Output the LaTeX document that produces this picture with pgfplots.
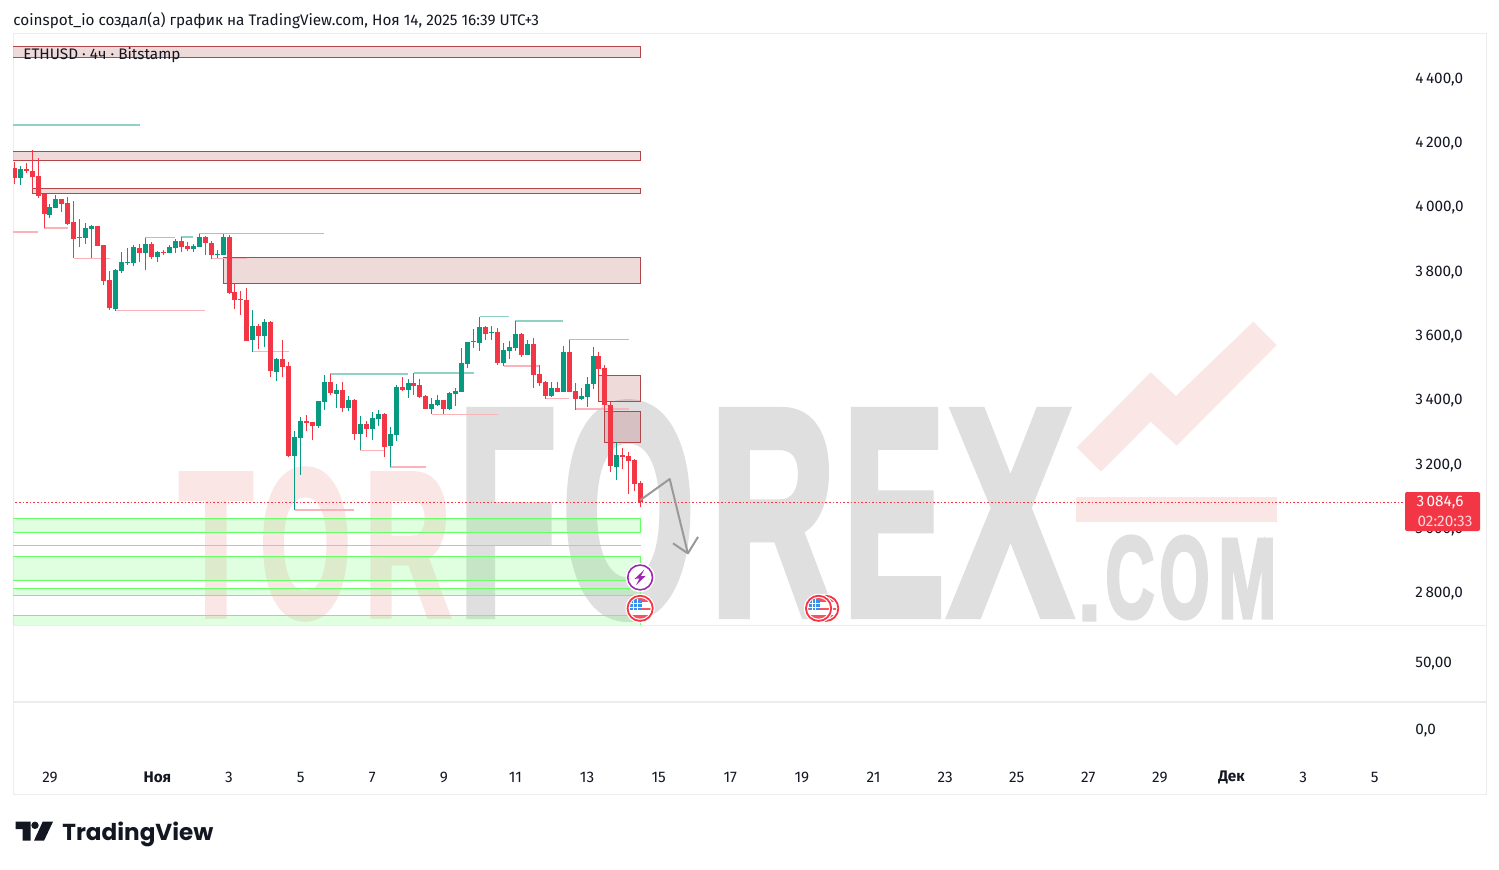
\documentclass[border=0pt]{standalone}
\usepackage{fontspec}
\setmainfont{Fira Sans}
\newfontfamily\wmf{Liberation Sans}[UprightFont=* Bold, FakeBold=3.5]
\newfontfamily\tvf{Poppins}
\usepackage{pgfplots}
\usepackage{pgfplotstable}
\pgfplotsset{compat=1.18}
\definecolor{upc}{HTML}{089981}
\definecolor{dnc}{HTML}{F23645}
\definecolor{zone}{HTML}{B2474A}
\definecolor{zgreen}{HTML}{66FF66}
\definecolor{frame}{HTML}{ECECEC}
\definecolor{wmpink}{HTML}{FBE6E6}
\definecolor{wmgray}{HTML}{DFDFDF}
\definecolor{evpurple}{HTML}{9C27B0}
\definecolor{evblue}{HTML}{3D8FEE}
\definecolor{tvtext}{HTML}{131722}

% x = 4h candle number, y = price
\pgfplotstableread{
i o h l c
1 4087 4124 4065 4115
6 3972 4006 3962 3997
7 3993 4034 3993 4021
12 3900 3947 3881 3931
13 3928 3940 3838 3937
17 3679 3803 3673 3800
18 3797 3856 3791 3825
19 3822 3869 3816 3825
20 3822 3878 3813 3872
22 3853 3900 3800 3881
24 3841 3859 3825 3856
26 3853 3878 3853 3872
27 3869 3897 3853 3890
30 3866 3881 3856 3875
31 3872 3912 3872 3903
34 3847 3862 3838 3850
35 3847 3912 3847 3903
40 3583 3676 3546 3627
42 3596 3648 3561 3639
44 3484 3527 3456 3524
47 3223 3300 3055 3282
48 3279 3344 3164 3331
51 3316 3394 3310 3394
52 3391 3474 3366 3453
54 3415 3446 3372 3428
56 3372 3409 3362 3397
58 3291 3347 3241 3322
60 3307 3359 3272 3341
61 3338 3366 3316 3353
63 3254 3313 3188 3291
64 3288 3443 3269 3437
66 3428 3462 3403 3450
70 3369 3403 3353 3384
71 3381 3412 3378 3397
73 3369 3422 3366 3418
74 3415 3434 3378 3425
75 3422 3558 3422 3512
76 3509 3577 3496 3577
77 3577 3617 3558 3580
78 3574 3655 3549 3624
80 3605 3627 3583 3608
82 3512 3574 3502 3552
83 3549 3580 3524 3561
84 3558 3642 3549 3602
86 3537 3583 3537 3571
90 3409 3453 3406 3434
92 3422 3565 3422 3546
95 3400 3434 3397 3409
96 3406 3468 3375 3446
97 3446 3561 3431 3533
101 3188 3266 3148 3226
}\upcandles

\pgfplotstableread{
i o h l c
0 4118 4137 4068 4087
2 4115 4134 4102 4108
3 4108 4174 4049 4090
4 4093 4149 4024 4031
5 4037 4037 3930 3975
8 4021 4023 3981 4006
9 4009 4028 3941 3944
10 3950 4015 3837 3897
11 3903 3959 3872 3900
14 3937 3937 3875 3875
15 3878 3880 3754 3766
16 3769 3797 3676 3682
21 3869 3881 3825 3853
23 3881 3887 3834 3841
25 3856 3862 3847 3853
28 3890 3903 3856 3872
29 3875 3887 3859 3866
32 3903 3906 3847 3884
33 3884 3890 3834 3847
36 3903 3909 3726 3729
37 3732 3759 3679 3707
38 3711 3735 3661 3708
39 3708 3745 3580 3580
41 3627 3633 3555 3596
43 3639 3642 3468 3487
45 3524 3583 3468 3499
46 3502 3515 3219 3223
49 3331 3350 3300 3325
50 3328 3328 3272 3316
53 3453 3477 3412 3418
55 3428 3453 3359 3372
57 3397 3400 3272 3291
59 3322 3331 3282 3307
62 3353 3356 3219 3251
65 3437 3468 3425 3428
67 3450 3481 3412 3440
68 3443 3462 3403 3406
69 3409 3412 3369 3369
72 3397 3397 3353 3369
79 3624 3627 3583 3602
81 3608 3620 3505 3512
85 3602 3605 3530 3537
87 3571 3589 3434 3474
88 3477 3505 3440 3450
89 3453 3456 3400 3409
91 3434 3453 3422 3422
93 3546 3583 3422 3422
94 3425 3450 3366 3400
98 3533 3546 3471 3493
99 3496 3505 3362 3381
100 3381 3390 3173 3191
102 3226 3247 3182 3219
103 3223 3235 3104 3207
104 3210 3213 3114 3135
105 3139 3145 3064 3080
}\dncandles

\pgfdeclareplotmark{usflag}{%
  \pgfscope
  \pgfsetfillcolor{white}\pgfpathcircle{\pgfpointorigin}{7.3pt}\pgfusepathqfill
  \pgfsetstrokecolor{dnc}\pgfsetlinewidth{.9pt}\pgfpathcircle{\pgfpointorigin}{6.3pt}\pgfusepathqstroke
  \pgfpathcircle{\pgfpointorigin}{5.2pt}\pgfusepathqclip
  \pgfsetfillcolor{dnc!85}
  \pgfpathrectangle{\pgfpoint{-6pt}{3pt}}{\pgfpoint{12pt}{3pt}}\pgfusepathqfill
  \pgfpathrectangle{\pgfpoint{-6pt}{-1pt}}{\pgfpoint{12pt}{1.4pt}}\pgfusepathqfill
  \pgfpathrectangle{\pgfpoint{-6pt}{-6pt}}{\pgfpoint{12pt}{2.7pt}}\pgfusepathqfill
  \pgfsetfillcolor{evblue}
  \pgfpathrectangle{\pgfpoint{-5pt}{-1pt}}{\pgfpoint{5.8pt}{5.6pt}}\pgfusepathqfill
  \pgfsetstrokecolor{white}\pgfsetlinewidth{.2pt}
  \pgfpathmoveto{\pgfpoint{-3.4pt}{-1pt}}\pgfpathlineto{\pgfpoint{-3.4pt}{4.6pt}}
  \pgfpathmoveto{\pgfpoint{-1.6pt}{-1pt}}\pgfpathlineto{\pgfpoint{-1.6pt}{4.6pt}}
  \pgfpathmoveto{\pgfpoint{-5pt}{.8pt}}\pgfpathlineto{\pgfpoint{.8pt}{.8pt}}
  \pgfpathmoveto{\pgfpoint{-5pt}{2.7pt}}\pgfpathlineto{\pgfpoint{.8pt}{2.7pt}}
  \pgfusepathqstroke
  \endpgfscope}
\pgfdeclareplotmark{bolt}{%
  \pgfscope
  \pgfsetfillcolor{white}\pgfpathcircle{\pgfpointorigin}{7.3pt}\pgfusepathqfill
  \pgfsetstrokecolor{evpurple}\pgfsetlinewidth{.8pt}\pgfpathcircle{\pgfpointorigin}{6.2pt}\pgfusepathqstroke
  \pgfsetfillcolor{evpurple}
  \pgfpathmoveto{\pgfpoint{2.1pt}{3.9pt}}
  \pgfpathlineto{\pgfpoint{-2.8pt}{-.7pt}}
  \pgfpathlineto{\pgfpoint{-.3pt}{-.5pt}}
  \pgfpathlineto{\pgfpoint{-2.1pt}{-3.9pt}}
  \pgfpathlineto{\pgfpoint{2.8pt}{.8pt}}
  \pgfpathlineto{\pgfpoint{.3pt}{.6pt}}
  \pgfpathclose\pgfusepathqfill
  \endpgfscope}

\newcommand{\wmch}[6]{% x1 x2 ytop ybot colour letter, in image pixels
  \pgfmathsetmacro\wmw{(#2-#1)*.5}\pgfmathsetmacro\wmh{(#4-#3)*.5*.93}%
  \pgfmathsetmacro\wmb{#4-(#4-#3)*.035}%
  \node[anchor=south west, inner sep=0pt, text=#5] at (#1,\wmb)
    {\resizebox{\wmw pt}{\wmh pt}{\wmf #6}};}

\newcommand{\smallfont}{\fontsize{7.65pt}{9pt}\selectfont}

\pgfplotsset{
  pane/.style={
    scale only axis, anchor=south west, width=736.5pt,
    xmin=-0.2, xmax=246.65,
    axis line style={draw=frame, line width=.5pt},
    tick style={draw=none}, major tick length=0pt,
    yticklabel pos=right, xtick=\empty,
    tick label style={text=tvtext},
    y tick label style={anchor=west, inner sep=0pt, xshift=-35.5pt, yshift=-1pt, font=\smallfont},
    /pgf/number format/assume math mode=true,
    /pgf/number format/use comma,
    /pgf/number format/1000 sep={\,},
    /pgf/number format/fixed,
    /pgf/number format/fixed zerofill,
    /pgf/number format/precision=1,
  },
  liq/.style={line width=.8pt, forget plot},
  lg/.style={liq, color=upc!45},
  lr/.style={liq, color=dnc!38},
  zr/.style={draw=zone, fill=zone, fill opacity=.2, line width=.5pt, forget plot},
  zg/.style={draw=zgreen, fill=zgreen, fill opacity=.2, line width=.5pt, forget plot},
}

\begin{document}
\begin{tikzpicture}
\path[use as bounding box, fill=white] (0,0) rectangle (749.5pt,434.5pt);

% watermark, in image pixels
\begin{scope}[x=.5pt, y=-.5pt, yshift=434.5pt]
  \wmch{179}{252}{470}{621}{wmpink}{T}
  \wmch{260}{350}{467}{624}{wmpink}{O}
  \wmch{364}{450}{470}{621}{wmpink}{R}
  \wmch{458}{556}{405}{622}{wmgray}{F}
  \wmch{562}{694}{400}{625}{wmgray}{O}
  \wmch{710}{835}{405}{622}{wmgray}{R}
  \wmch{843}{944}{405}{622}{wmgray}{E}
  \wmch{949}{1071}{405}{622}{wmgray}{X}
  \wmch{1078}{1100}{606}{621}{wmgray}{.}
  \wmch{1105}{1154}{535}{622}{wmgray}{C}
  \wmch{1159}{1209}{535}{622}{wmgray}{O}
  \wmch{1218}{1276}{537}{621}{wmgray}{M}
  \fill[wmpink] (1253.3,321.7) -- (1276.7,345) -- (1176.7,445.7) -- (1150.7,421.7)
    -- (1101,471.7) -- (1076.7,447.3) -- (1150.7,372.3) -- (1176,396) -- cycle;
  \fill[wmpink] (1075.7,497.3) rectangle (1277,522);
\end{scope}

\begin{axis}[pane, at={(6.5pt,122pt)}, height=295.5pt,
  ymin=2697.2, ymax=4534.4, ytick={2800,3000,...,4400}]

% zones
\addplot[zr] coordinates {(-1,4494) (105,4494) (105,4460) (-1,4460)} --cycle;
\addplot[zr] coordinates {(-1,4168) (105,4168) (105,4140) (-1,4140)} --cycle;
\addplot[zr] coordinates {(3,4055) (105,4055) (105,4039) (3,4039)} --cycle;
\addplot[zr] coordinates {(35,3840) (105,3840) (105,3759) (35,3759)} --cycle;
\addplot[zr] coordinates {(98,3473) (105,3473) (105,3393) (98,3393)} --cycle;
\addplot[zr] coordinates {(99,3362) (105,3362) (105,3265) (99,3265)} --cycle;
\addplot[zg] coordinates {(-1,3029) (105,3029) (105,2985) (-1,2985)} --cycle;
\addplot[line width=.5pt, forget plot, color=zgreen] coordinates {(-1,2945) (105,2945)};
\addplot[zg] coordinates {(-1,2911) (105,2911) (105,2837) (-1,2837)} --cycle;
\addplot[zg] coordinates {(-1,2811) (105,2811) (105,2790) (-1,2790)} --cycle;
\addplot[zg] coordinates {(-1,2728) (105,2728) (105,2690) (-1,2690)} --cycle;

% swing highs and lows
\addplot[lg] coordinates {(-1,4251) (21,4251)};
\addplot[lg] coordinates {(22,3902) (27,3902)};
\addplot[lg] coordinates {(28,3904) (30,3904)};
\addplot[lg] coordinates {(31,3914) (52,3914)};
\addplot[lg] coordinates {(53,3478) (66,3478)};
\addplot[lg] coordinates {(67,3480) (77,3480)};
\addplot[lg] coordinates {(78,3656) (83,3656)};
\addplot[lg] coordinates {(84,3643) (92,3643)};
\addplot[lg] coordinates {(93,3585) (103,3585)};
\addplot[lr] coordinates {(-1,3918) (4,3918)};
\addplot[lr] coordinates {(5,3931) (9,3931)};
\addplot[lr] coordinates {(10,3837) (16,3837)};
\addplot[lr] coordinates {(17,3675) (32,3675)};
\addplot[lr] coordinates {(33,3836) (39,3836)};
\addplot[lr] coordinates {(40,3547) (46,3547)};
\addplot[lr] coordinates {(47,3055) (57,3055)};
\addplot[lr] coordinates {(58,3240) (62,3240)};
\addplot[lr] coordinates {(63,3188) (69,3188)};
\addplot[lr] coordinates {(70,3352) (81,3352)};
\addplot[lr] coordinates {(82,3503) (88,3503)};
\addplot[lr] coordinates {(89,3401) (93,3401)};
\addplot[lr] coordinates {(94,3368) (103,3368)};

% last price
\addplot[solid, color=dnc, line width=.6pt, dash pattern=on .8pt off 1pt, forget plot]
  coordinates {(-1,3078) (233,3078)};

% candles: wick, then body
\addplot[draw=none, mark=none, forget plot, error bars/.cd, y dir=plus, y explicit,
  error mark=none, error bar style={color=upc, line width=.5pt}]
  table[x=i, y=l, y error expr=\thisrow{h}-\thisrow{l}] {\upcandles};
\addplot[draw=none, mark=none, forget plot, error bars/.cd, y dir=plus, y explicit,
  error mark=none, error bar style={color=upc, line width=2.5pt}]
  table[x=i, y=o, y error expr=\thisrow{c}-\thisrow{o}] {\upcandles};
\addplot[draw=none, mark=none, forget plot, error bars/.cd, y dir=plus, y explicit,
  error mark=none, error bar style={color=dnc, line width=.5pt}]
  table[x=i, y=l, y error expr=\thisrow{h}-\thisrow{l}] {\dncandles};
\addplot[draw=none, mark=none, forget plot, error bars/.cd, y dir=plus, y explicit,
  error mark=none, error bar style={color=dnc, line width=2.5pt}]
  table[x=i, y=c, y error expr=\thisrow{o}-\thisrow{c}] {\dncandles};

% forecast arrow
\addplot[color=black!40, line width=1pt, line join=round, forget plot]
  coordinates {(104.9,3085) (109.85,3151) (112.9,2920)};
\addplot[color=black!40, line width=1pt, line join=round, forget plot]
  coordinates {(110.4,2951) (112.9,2920) (114.6,2971)};

% events
\addplot[only marks, mark=usflag, forget plot] coordinates {(136,2749)};
\addplot[only marks, mark=usflag, forget plot] coordinates {(134.8,2749)};
\addplot[only marks, mark=usflag, forget plot] coordinates {(104.9,2749)};
\addplot[only marks, mark=bolt, forget plot] coordinates {(104.9,2845)};
\end{axis}

\begin{axis}[pane, at={(6.5pt,83.5pt)}, height=38.5pt,
  ymin=0, ymax=96.3, ytick={50},
  /pgf/number format/precision=2]
\addplot[draw=none, forget plot] coordinates {(0,50)};
\end{axis}

\begin{axis}[pane, at={(6.5pt,37.5pt)}, height=46pt,
  ymin=-65, ymax=27, ytick={0},
  xtick={6,24,36,48,60,72,84,96,108,120,132,144,156,168,180,192,204,216,228},
  xticklabels={29,\textbf{Ноя},3,5,7,9,11,13,15,17,19,21,23,25,27,29,\textbf{Дек},3,5},
  x tick label style={anchor=center, inner sep=0pt, yshift=8.3pt, font=\smallfont}]
\addplot[draw=none, forget plot] coordinates {(0,0)};
\end{axis}

% texts, price label and logo, in image pixels
\begin{scope}[x=.5pt, y=-.5pt, yshift=434.5pt]
  \node[anchor=west, inner sep=0pt, text=tvtext, font=\smallfont] at (13,21)
    {coinspot\_io создал(а) график на TradingView.com, Ноя 14, 2025 16:39 UTC+3};
  \node[anchor=west, inner sep=0pt, text=tvtext, font=\smallfont] at (23,55)
    {ETHUSD · 4ч · Bitstamp};
  \fill[dnc, rounded corners=1pt] (1405,492) rectangle (1480,531);
  \node[anchor=center, inner sep=0pt, text=white, font=\smallfont] at (1440,503)
    {3\,084,6};
  \node[anchor=center, inner sep=0pt, text=white!80!dnc, font=\smallfont] at (1445,521)
    {02:20:33};
  \fill[tvtext] (15.7,821.7) -- (30.7,821.7) -- (30.7,840.7) -- (22.7,840.7) -- (22.7,829) -- (15.7,829) -- cycle;
  \fill[tvtext] (35,825.3) circle[radius=3.7];
  \fill[tvtext] (42.7,821.7) -- (53,821.7) -- (44,840.7) -- (34,840.7) -- cycle;
  \node[anchor=west, inner sep=0pt, text=tvtext] at (62,834)
    {\resizebox{75.5pt}{!}{\tvf\bfseries TradingView}};
\end{scope}
\end{tikzpicture}
\end{document}
